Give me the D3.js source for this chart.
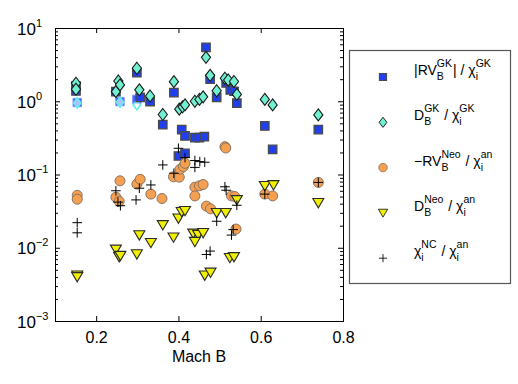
<!DOCTYPE html>
<html>
<head>
<meta charset="utf-8">
<script src="https://cdn.jsdelivr.net/npm/d3@7"></script>
<style>
  body { margin: 0; background: #fff; }
  text { font-family: "Liberation Sans", Arial, sans-serif; fill: #000; white-space: pre; }
</style>
</head>
<body>
<div id="chart"></div>
<script>
// |RV_B^GK| / chi_i^GK  (blue squares)
var rvGkMach = [0.151, 0.151, 0.248, 0.299, 0.307, 0.331, 0.362, 0.389, 0.400, 0.408, 0.416, 0.416, 0.440, 0.451, 0.463, 0.467, 0.477, 0.493, 0.516, 0.526, 0.535, 0.542, 0.610, 0.629, 0.740];
var rvGkVal  = [1.62, 1.38, 1.35, 2.45, 1.13, 0.99, 0.48, 1.31, 0.179, 0.41, 0.336, 0.195, 0.318, 0.318, 0.328, 5.45, 2.0, 1.13, 1.78, 1.43, 1.37, 0.94, 0.46, 0.22, 0.41];
// D_B^GK / chi_i^GK  (aquamarine diamonds)
var dGkMach = [0.151, 0.151, 0.248, 0.254, 0.258, 0.299, 0.305, 0.331, 0.362, 0.389, 0.402, 0.410, 0.416, 0.440, 0.451, 0.460, 0.467, 0.477, 0.493, 0.513, 0.521, 0.535, 0.542, 0.610, 0.629, 0.740];
var dGkVal  = [1.76, 1.46, 1.35, 1.89, 1.67, 2.82, 1.43, 1.18, 0.66, 1.85, 0.78, 0.84, 0.89, 1.0, 1.06, 1.15, 3.98, 2.26, 1.39, 2.06, 1.95, 1.86, 1.24, 1.06, 0.89, 0.65];
// -RV_B^Neo / chi_i^an  (orange circles)
var rvNeoMach = [0.154, 0.154, 0.248, 0.256, 0.258, 0.299, 0.307, 0.333, 0.360, 0.388, 0.402, 0.404, 0.412, 0.416, 0.440, 0.451, 0.460, 0.440, 0.468, 0.478, 0.513, 0.515, 0.529, 0.537, 0.540, 0.610, 0.629, 0.740];
var rvNeoVal  = [0.052, 0.046, 0.049, 0.043, 0.082, 0.074, 0.086, 0.054, 0.047, 0.093, 0.092, 0.118, 0.128, 0.142, 0.067, 0.070, 0.073, 0.051, 0.037, 0.034, 0.24, 0.23, 0.051, 0.050, 0.018, 0.054, 0.051, 0.078];
// D_B^Neo / chi_i^an  (yellow triangles)
var dNeoMach = [0.154, 0.154, 0.248, 0.256, 0.259, 0.299, 0.305, 0.333, 0.362, 0.388, 0.400, 0.408, 0.416, 0.436, 0.448, 0.460, 0.440, 0.464, 0.478, 0.493, 0.515, 0.525, 0.535, 0.542, 0.610, 0.631, 0.740];
var dNeoVal  = [0.0042, 0.0040, 0.0095, 0.0075, 0.0078, 0.0082, 0.0149, 0.0117, 0.0205, 0.0139, 0.0252, 0.031, 0.032, 0.0157, 0.015, 0.016, 0.0121, 0.0042, 0.0046, 0.030, 0.030, 0.0073, 0.0075, 0.045, 0.070, 0.072, 0.041];
// chi_i^NC / chi_i^an  (black plus)
var chiNcMach = [0.154, 0.154, 0.248, 0.253, 0.259, 0.297, 0.305, 0.333, 0.362, 0.389, 0.400, 0.416, 0.440, 0.452, 0.464, 0.440, 0.468, 0.477, 0.493, 0.513, 0.516, 0.529, 0.533, 0.542, 0.610, 0.740];
var chiNcVal  = [0.022, 0.016, 0.060, 0.042, 0.0375, 0.045, 0.065, 0.072, 0.135, 0.104, 0.228, 0.17, 0.155, 0.150, 0.147, 0.125, 0.0081, 0.0090, 0.023, 0.068, 0.061, 0.0149, 0.0177, 0.038, 0.054, 0.078];
// open reference markers near 1
var refMach = [0.154, 0.258, 0.299];
var refSqVal = [0.96, 0.99, 1.06];
var refDiVal = [0.95, 0.97, 0.89];

var xTicks = [0.2, 0.4, 0.6, 0.8];
var yDecades = [-3, -2, -1, 0, 1];

var W = 518, H = 384;
var margin = {top: 28, left: 55, right: 175, bottom: 63};

var svg = d3.select("#chart").append("svg")
  .attr("width", W).attr("height", H);

var x = d3.scaleLinear().domain([0.1, 0.8]).range([margin.left, W - margin.right]);
var y = d3.scaleLog().domain([1e-3, 10]).range([H - margin.bottom, margin.top]);

var minor = [];
yDecades.slice(0, -1).forEach(function(d) {
  for (var k = 2; k <= 9; k++) minor.push(k * Math.pow(10, d));
});
var major = yDecades.map(function(d) { return Math.pow(10, d); });

// axes (ticks inside)
var bottom = svg.append("g")
  .attr("transform", "translate(0," + y.range()[0] + ")")
  .call(d3.axisBottom(x).tickValues(xTicks).tickSizeInner(-5).tickSizeOuter(0).tickPadding(11).tickFormat(d3.format(".1f")));
bottom.selectAll("text").style("font-size", "16px").style("font-family", "Liberation Sans, Arial, sans-serif");

svg.append("g")
  .attr("transform", "translate(0," + y.range()[1] + ")")
  .call(d3.axisTop(x).tickValues([0.2, 0.4, 0.6]).tickSizeInner(-5).tickSizeOuter(0).tickFormat(""));

svg.append("g")
  .attr("transform", "translate(" + x.range()[0] + ",0)")
  .call(d3.axisLeft(y).tickValues(major).tickSizeInner(-5).tickSizeOuter(0).tickFormat(""));
svg.append("g")
  .attr("transform", "translate(" + x.range()[0] + ",0)")
  .call(d3.axisLeft(y).tickValues(minor).tickSizeInner(-3).tickSizeOuter(0).tickFormat(""));
svg.append("g")
  .attr("transform", "translate(" + x.range()[1] + ",0)")
  .call(d3.axisRight(y).tickValues(major).tickSizeInner(-5).tickSizeOuter(0).tickFormat(""));
svg.append("g")
  .attr("transform", "translate(" + x.range()[1] + ",0)")
  .call(d3.axisRight(y).tickValues(minor).tickSizeInner(-3).tickSizeOuter(0).tickFormat(""));

svg.selectAll(".domain").remove();

// y labels 10^n
var ylab = svg.append("g");
yDecades.forEach(function(d) {
  var yy = y(Math.pow(10, d));
  var t = ylab.append("text").attr("x", 17).attr("y", yy + 6.5)
    .style("font-size", "17px").text("10");
  var w = t.node().getComputedTextLength();
  ylab.append("text").attr("x", 17 + w).attr("y", yy - 1.5)
    .style("font-size", "11px").text(d < 0 ? "\u2212" + (-d) : String(d));
});

svg.append("text")
  .attr("x", (x.range()[0] + x.range()[1]) / 2).attr("y", 361.5)
  .attr("text-anchor", "middle").style("font-size", "16px")
  .text("Mach B");

// marker shapes
function markerPath(type) {
  if (type === "square") return "M-4.2,-4.2H4.2V4.2H-4.2Z";
  if (type === "diamond") return "M0,-6L4.6,0L0,6L-4.6,0Z";
  if (type === "circle") return "M5,0A5,5 0 1,1 -5,0A5,5 0 1,1 5,0Z";
  if (type === "tri") return "M-5.5,-4.3L5.5,-4.3L0,5Z";
  if (type === "plus") return "M-4.8,0H4.8M0,-4.8V4.8";
}
var styles = {
  square:  {fill: "#2040f0", stroke: "#4a4a4a", sw: 1.3},
  diamond: {fill: "#70f0d0", stroke: "#1a1a1a", sw: 1.1},
  circle:  {fill: "#f5a050", stroke: "#8a7460", sw: 1},
  tri:     {fill: "#f0f000", stroke: "#2a2a2a", sw: 1.1},
  plus:    {fill: "none",    stroke: "#000",    sw: 1}
};

function drawSeries(mach, vals, type) {
  var data = mach.map(function(m, i) { return {m: m, v: vals[i]}; });
  var s = styles[type];
  svg.append("g").selectAll("path")
    .data(data)
    .enter().append("path")
    .attr("transform", function(d) { return "translate(" + x(d.m) + "," + y(d.v) + ")"; })
    .attr("d", markerPath(type))
    .attr("fill", s.fill).attr("stroke", s.stroke).attr("stroke-width", s.sw);
}

// open reference markers
svg.append("g").selectAll("path")
  .data(refMach.map(function(m, i) { return {m: m, v: refSqVal[i]}; }))
  .enter().append("path")
  .attr("transform", function(d) { return "translate(" + x(d.m) + "," + y(d.v) + ")"; })
  .attr("d", markerPath("square"))
  .attr("fill", "#4060ff").attr("stroke", "#8090ff").attr("stroke-width", 1);
svg.append("g").selectAll("path")
  .data(refMach.map(function(m, i) { return {m: m, v: refDiVal[i]}; }))
  .enter().append("path")
  .attr("transform", function(d) { return "translate(" + x(d.m) + "," + y(d.v) + ")"; })
  .attr("d", "M0,-5L3.6,0L0,5L-3.6,0Z")
  .attr("fill", "#ffffff").attr("fill-opacity", 0.6).attr("stroke", "#60f0f0").attr("stroke-width", 1.6);

drawSeries(rvGkMach, rvGkVal, "square");
drawSeries(dGkMach, dGkVal, "diamond");
drawSeries(rvNeoMach, rvNeoVal, "circle");
drawSeries(dNeoMach, dNeoVal, "tri");
drawSeries(chiNcMach, chiNcVal, "plus");

// frame
svg.append("rect")
  .attr("x", x.range()[0] + 0.5).attr("y", y.range()[1] + 0.5)
  .attr("width", x.range()[1] - x.range()[0]).attr("height", y.range()[0] - y.range()[1])
  .attr("fill", "none").attr("stroke", "#000").attr("stroke-width", 1);

// legend
var legendLabels = [
  [{t: "|RV"}, {sub: "B", sup: "GK"}, {t: "| / \u03c7"}, {sub: "i", sup: "GK"}],
  [{t: "D"}, {sub: "B", sup: "GK"}, {t: " / \u03c7"}, {sub: "i", sup: "GK"}],
  [{t: "\u2212RV"}, {sub: "B", sup: "Neo"}, {t: " / \u03c7"}, {sub: "i", sup: "an"}],
  [{t: "D"}, {sub: "B", sup: "Neo"}, {t: " / \u03c7"}, {sub: "i", sup: "an"}],
  [{t: "\u03c7"}, {sub: "i", sup: "NC"}, {t: " / \u03c7"}, {sub: "i", sup: "an"}]
];
var legendTypes = ["square", "diamond", "circle", "tri", "plus"];

var lg = svg.append("g");
lg.append("rect").attr("x", 349.5).attr("y", 50.5).attr("width", 161).attr("height", 233)
  .attr("fill", "#fff").attr("stroke", "#555").attr("stroke-width", 1.2);

legendLabels.forEach(function(parts, i) {
  var cy = 77 + i * 45.3;
  var s = styles[legendTypes[i]];
  var sc = legendTypes[i] === "diamond" ? 0.85 : 0.85;
  lg.append("path")
    .attr("transform", "translate(383," + cy + ") scale(" + sc + ")")
    .attr("d", markerPath(legendTypes[i]))
    .attr("fill", s.fill).attr("stroke", s.stroke).attr("stroke-width", s.sw);
  var cx = 414, base = cy - 2;
  parts.forEach(function(p) {
    if (p.t !== undefined) {
      var t = lg.append("text").attr("x", cx).attr("y", base).style("font-size", "14px").text(p.t);
      cx += t.node().getComputedTextLength();
    } else {
      var a = lg.append("text").attr("x", cx).attr("y", base + 5).style("font-size", "10.5px").text(p.sub);
      var b = lg.append("text").attr("x", cx).attr("y", base - 8).style("font-size", "10.5px").text(p.sup);
      cx += Math.max(a.node().getComputedTextLength(), b.node().getComputedTextLength()) + 1;
    }
  });
});
</script>
</body>
</html>
